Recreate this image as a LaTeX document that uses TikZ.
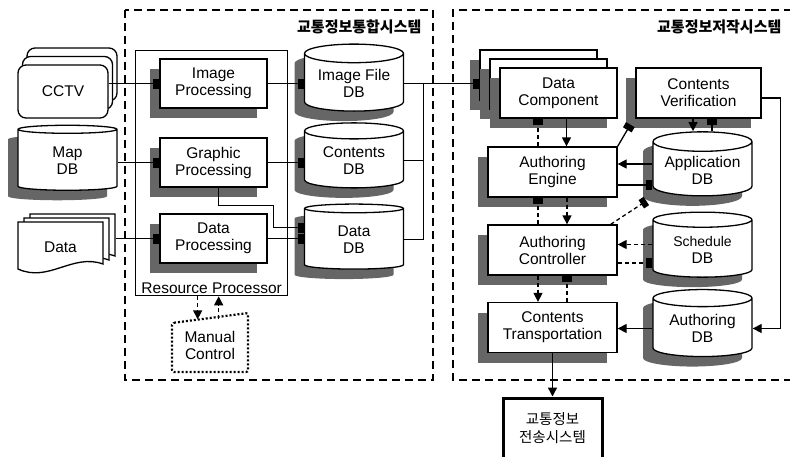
\documentclass[tikz,border=0pt]{standalone}
\usepackage{fontspec}
\setmainfont{Liberation Sans}
\newfontfamily\krfont{Noto Sans CJK KR}
\usetikzlibrary{shapes.geometric,shadows,arrows.meta}

% document symbol: name, centre x, centre y, text
\newcommand\docat[4]{%
  \draw[fill=white] (#2-42.5,#3-25) -- (#2+42.5,#3-25) -- (#2+42.5,#3+17)
     .. controls (#2+12,#3+6) and (#2-12,#3+36) .. (#2-42.5,#3+22) -- cycle;
  \node[minimum width=85pt,minimum height=50pt] (#1) at (#2,#3) {#4};}

\begin{document}
\begin{tikzpicture}[x=1pt,y=-1pt,line width=1.3pt,
    font=\fontsize{15.5}{17}\selectfont,
    shd/.style={drop shadow={shadow xshift=-10pt,shadow yshift=-10pt,fill=black!60,opacity=1}},
    proc/.style={draw,fill=white,shd,align=center,inner sep=1pt,minimum height=50pt},
    db/.style={cylinder,shape border rotate=90,aspect=0.25,draw,fill=white,shd,
        align=center,inner sep=1pt,minimum width=99pt,minimum height=65pt},
    sysbox/.style={line width=2.6pt,dash pattern=on 8pt off 5pt},
    title/.style={font=\krfont\bfseries\fontsize{15}{17}\selectfont,inner sep=0pt},
    arr/.style={-{Triangle[length=9pt,width=9pt]}},
    blb/.style={-{Square[length=6pt,width=10pt]}},
    dsh/.style={dash pattern=on 4pt off 3pt}]
\useasboundingbox (0,0) rectangle (790,456);

% system frames
\draw[sysbox] (125,10) rectangle (433,380); % s1
\node[title,anchor=east] (t1) at (422,27) {교통정보통합시스템};
\draw[sysbox] (792,10) -- (453,10) -- (453,380) -- (792,380); % s2
\node[title,anchor=east] (t2) at (782,27) {교통정보저작시스템};

% sources
\node[draw,fill=white,rounded corners=8pt,minimum width=90pt,minimum height=53pt] (cctv3) at (72,74.5) {};
\node[draw,fill=white,rounded corners=8pt,minimum width=90pt,minimum height=53pt] (cctv2) at (67.5,83) {};
\node[draw,fill=white,rounded corners=8pt,minimum width=90pt,minimum height=53pt] (cctv) at (63,91.5) {CCTV};
\node[db] (mapdb) at (67.5,160.5) {Map\\DB};
\docat{ddb}{72.5}{239}{}
\docat{ddm}{66.5}{243}{}
\docat{dd}{60.5}{247}{Data}

% resource processor
\node[draw,minimum width=152pt,minimum height=245pt,anchor=north west,inner sep=0pt] (rp) at (135,50) {};
\node[anchor=south,inner sep=2pt] (rplabel) at (rp.south) {Resource Processor};
\node[proc,minimum width=107pt,minimum height=49pt] (imgp) at (213.5,83.5) {Image\\Processing};
\node[proc,minimum width=107pt,minimum height=49pt] (grpp) at (213.5,162.5) {Graphic\\Processing};
\node[proc,minimum width=107pt,minimum height=49pt] (datp) at (213.5,238.5) {Data\\Processing};

\draw[line width=2.2pt,dash pattern=on 2pt off 2pt,rounded corners=2pt]
    (172,323) -- (248,313) -- (248,372) -- (172,372) -- cycle; % manual
\node[minimum width=76pt,minimum height=50pt,align=center] (mc) at (210,345) {Manual\\Control};

\node[db,minimum height=67pt] (imgdb) at (354,83.5) {Image File\\DB};
\node[db] (condb) at (354,160.5) {Contents\\DB};
\node[db] (datdb) at (354,239.5) {Data\\DB};

% authoring side
\node[proc,minimum width=117pt] (dcomp3) at (538.5,75) {};
\node[proc,minimum width=117pt] (dcomp2) at (548.5,84) {};
\node[proc,minimum width=117pt] (dcomp) at (558.5,93) {Data\\Component};
\node[proc,minimum width=125pt] (cverif) at (698.5,93) {Contents\\Verification};
\node[proc,minimum width=129pt] (aeng) at (552.5,172) {Authoring\\Engine};
\node[proc,minimum width=129pt] (actl) at (552.5,250) {Authoring\\Controller};
\node[proc,minimum width=129pt] (ctrans) at (552.5,327.5) {Contents\\Transportation};
\node[db,minimum height=64pt] (appdb) at (702.5,170) {Application\\DB};
\node[db] (scheddb) at (702.5,249.5) {{\fontsize{14}{16}\selectfont Schedule}\\DB};
\node[db,minimum height=67pt] (authdb) at (702.5,328.5) {Authoring\\DB};
\node[draw,line width=3pt,minimum width=99pt,minimum height=60pt,align=center,
    font=\krfont\fontsize{14.5}{18}\selectfont] (trans) at (552.5,428) {교통정보\\전송시스템};

% left links
\draw[blb] (imgp.west -| cctv.east) -- (imgp.west);
\draw[blb] (grpp.west -| mapdb.east) -- (grpp.west);
\draw[blb] (datp.west -| ddb.east) -- (datp.west);
\draw[blb] (imgp.east) -- (imgp.east -| imgdb.west);
\draw[blb] (grpp.east) -- (grpp.east -| condb.west);
\draw[blb] (datp.east) -- (datp.east -| datdb.west);
\draw[blb] ([xshift=5pt]grpp.south) -- ++(0,18) -| ([xshift=-30pt,yshift=12pt]datdb.west)
    -- ([yshift=12pt]datdb.west);
\draw[arr,dsh] ([xshift=-14pt]rp.south) -- ([xshift=-14pt]rp.south |- mc.north);
\draw[arr,dsh] ([xshift=7pt]rp.south |- mc.north) -- ([xshift=7pt]rp.south);

% bus
\coordinate (bus) at ([xshift=19pt]imgdb.east);
\draw[blb] (imgdb.east) -- (imgdb.east -| dcomp3.west);
\draw (condb.east) -| (bus);
\draw (datdb.east) -| (bus);

% right links
\draw[arr] ([xshift=8pt]dcomp.south) -- ([xshift=8pt]dcomp.south |- aeng.north);
\draw[blb,dsh] ([xshift=-14.5pt]aeng.north) -- ([xshift=-14.5pt]aeng.north |- dcomp.south);
\draw[arr,dsh] ([xshift=14.5pt]aeng.south) -- ([xshift=14.5pt]actl.north);
\draw[blb,dsh] ([xshift=-14.5pt]actl.north) -- ([xshift=-14.5pt]aeng.south);
\draw[arr,dsh] ([xshift=-14.5pt]actl.south) -- ([xshift=-14.5pt]ctrans.north);
\draw[blb,dsh] ([xshift=14.5pt]ctrans.north) -- ([xshift=14.5pt]actl.south);
\draw[arr] ([xshift=-5.5pt]cverif.south) -- ([xshift=-5.5pt]cverif.south |- appdb.north);
\draw[blb] ([xshift=13.5pt]cverif.south |- appdb.north) -- ([xshift=13.5pt]cverif.south);
\draw[blb] (aeng.north east) -- ([xshift=-5pt,yshift=-6pt]cverif.south west);
\draw[arr] ([yshift=6pt]appdb.west) -- ([yshift=6pt]appdb.west -| aeng.east);
\draw[blb] ([yshift=-13pt]aeng.east) -- ([yshift=-13pt]aeng.east -| appdb.west);
\draw[blb,dsh] ([xshift=-7pt]actl.north east) -- ([xshift=-6pt,yshift=-31pt]appdb.west);
\draw[arr,dsh] ([yshift=5pt]scheddb.west) -- ([yshift=5pt]scheddb.west -| actl.east);
\draw[blb,dsh] ([yshift=-13pt]actl.east) -- ([yshift=-13pt]actl.east -| scheddb.west);
\draw[arr] (authdb.west) -- (authdb.west -| ctrans.east);
\draw[arr] ([yshift=-5pt]cverif.east) -| ([xshift=28pt]authdb.east) -- (authdb.east);
\draw[arr] (ctrans.south) -- (trans.north);
\end{tikzpicture}
\end{document}
